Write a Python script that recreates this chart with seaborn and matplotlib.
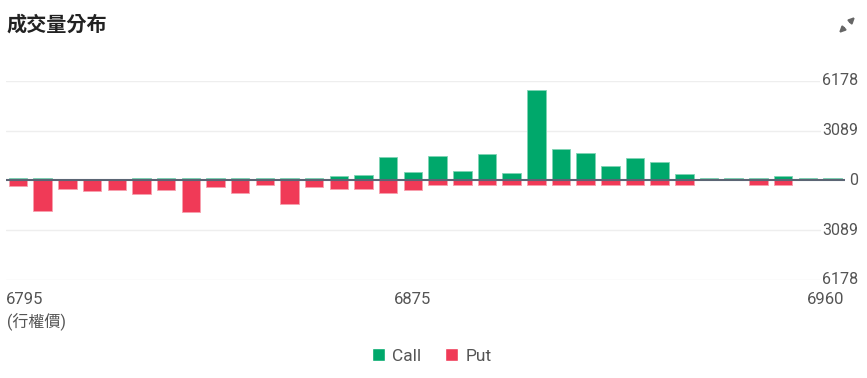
import matplotlib
matplotlib.use("Agg")
import matplotlib.pyplot as plt
import matplotlib.transforms as mtransforms
from matplotlib.patches import Patch, FancyArrowPatch
import seaborn as sns

# 履約價 (行權價)
strikes = [6795, 6800, 6805, 6810, 6815, 6820, 6825, 6830, 6835, 6840,
           6845, 6850, 6855, 6860, 6865, 6870, 6875, 6880, 6885, 6890,
           6895, 6900, 6905, 6910, 6915, 6920, 6925, 6930, 6935, 6940,
           6945, 6950, 6955, 6960]

# 成交量 Call / Put (讀圖估計)
call_vol = [160, 150, 0, 0, 0, 150, 150, 150, 150, 150,
            150, 150, 160, 260, 334, 1441, 522, 1504, 564, 1650,
            459, 5597, 1963, 1692, 877, 1400, 1128, 418, 150, 150,
            150, 240, 150, 150]
put_vol = [334, 1900, 522, 690, 585, 835, 605, 1985, 418, 815,
           313, 1462, 418, 522, 522, 773, 585, 271, 271, 271,
           271, 271, 271, 271, 271, 271, 271, 271, 0, 0,
           271, 271, 0, 0]

y_max = 6178
y_ticks = [6178, 3089, 0, -3089, -6178]
x_labels = {0: "6795", 16: "6875", 33: "6960"}

green = "#00a86b"
red = "#f03a57"
text_col = "#555555"

sns.set_style("white")
plt.rcParams["font.family"] = ["Roboto", "Noto Sans CJK TC", "DejaVu Sans"]

fig = plt.figure(figsize=(8.67, 3.78), dpi=100)
ax = fig.add_axes([5.7 / 867, 98 / 378, 839.1 / 867, 199.3 / 378])

# barre Call verso l'alto, Put verso il basso
sns.barplot(x=strikes, y=call_vol, order=strikes, color=green, saturation=1,
            width=0.75, ax=ax, edgecolor="#7fd4b4", linewidth=0.6, zorder=2)
sns.barplot(x=strikes, y=[-v for v in put_vol], order=strikes, color=red,
            saturation=1, width=0.75, ax=ax, edgecolor="#f7a0ae",
            linewidth=0.6, zorder=2)

ax.set_xlim(-0.5, len(strikes) - 0.5)
ax.set_ylim(-y_max, y_max)
for t in y_ticks:
    if t == 0:
        ax.axhline(0, color="#5b6574", lw=1.5, zorder=3)
    else:
        ax.axhline(t, color="#eeeeee", lw=1.0, zorder=0)

ax.set_xticks([])
ax.set_yticks([])
ax.set_xlabel("")
ax.set_ylabel("")
sns.despine(ax=ax, left=True, bottom=True)

# etichette asse y a destra
ytrans = mtransforms.blended_transform_factory(fig.transFigure, ax.transData)
for t in y_ticks:
    fig.text(858 / 867, t, f"{abs(t)}", transform=ytrans, ha="right",
             va="center", fontsize=11.5, color=text_col,
             bbox=dict(facecolor="white", edgecolor="none", pad=1))

# etichette asse x
xtrans = mtransforms.blended_transform_factory(ax.transData, fig.transFigure)
for i, lab in x_labels.items():
    if i == 0:
        xpos, ha = -0.5, "left"
    elif i == len(strikes) - 1:
        xpos, ha = len(strikes) - 0.5, "right"
    else:
        xpos, ha = i, "center"
    ax.text(xpos, 1 - 300 / 378, lab, transform=xtrans, ha=ha, va="center",
            fontsize=12, color=text_col)
fig.text(7 / 867, 1 - 322 / 378, "(行權價)", ha="left", va="center",
         fontsize=11.5, color=text_col)

# titolo
fig.text(7 / 867, 1 - 25 / 378, "成交量分布", ha="left", va="center",
         fontsize=14.5, weight="bold", color="#222222")

# icona espandi
for tail, head in [((848, 378 - 24), (857, 378 - 15)),
                   ((846, 378 - 26), (837, 378 - 35))]:
    fig.add_artist(FancyArrowPatch(
        tail, head, transform=None, arrowstyle="-|>", mutation_scale=8,
        lw=1.6, color="#666666"))

# legenda
handles = [Patch(facecolor=green, label="Call"), Patch(facecolor=red, label="Put")]
fig.legend(handles=handles, loc="center", bbox_to_anchor=(0.498, 1 - 356 / 378),
           ncol=2, frameon=False, fontsize=12.5, handlelength=0.75,
           handleheight=0.75, handletextpad=0.4, columnspacing=1.4,
           labelcolor=text_col)

fig.savefig("out.png", dpi=100)
